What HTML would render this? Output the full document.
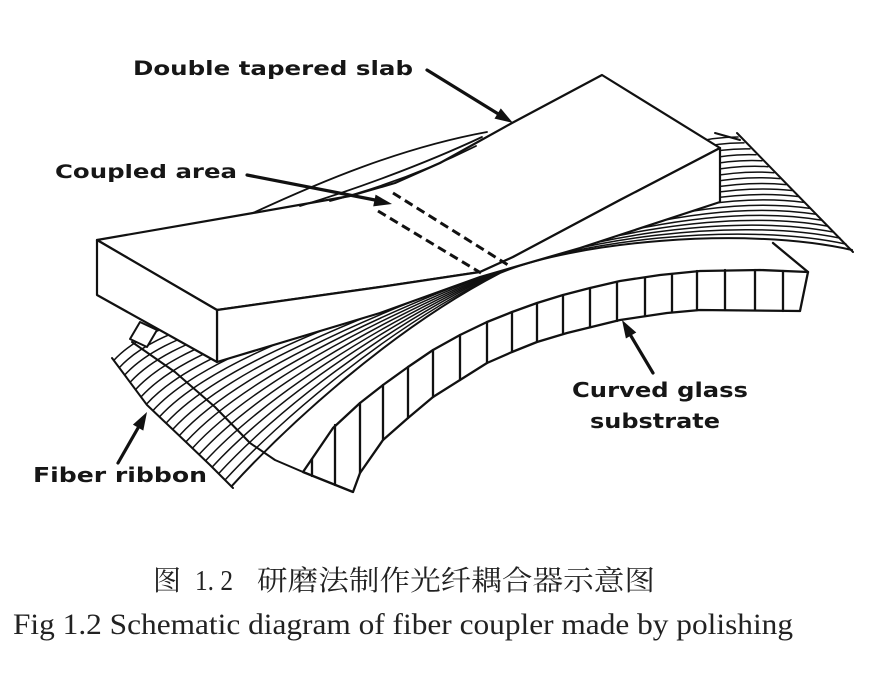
<!DOCTYPE html>
<html>
<head>
<meta charset="utf-8">
<style>
html,body{margin:0;padding:0;background:#fff;}
svg{display:block;}
.lbl{font-family:"DejaVu Sans","Liberation Sans",sans-serif;font-weight:bold;fill:#161616;}
</style>
</head>
<body>
<svg width="872" height="688" viewBox="0 0 872 688" xmlns="http://www.w3.org/2000/svg">
<rect width="872" height="688" fill="#fff"/>

<!-- Substrate front face -->
<g stroke="#111" stroke-width="2.3" stroke-linejoin="round" stroke-linecap="round">
<path fill="#fff" d="M303,472 L333,428 L360,403 L383,385 L408,367 L433,350 L460,335 L487,322 L512,312 L537,303 L563,295 L590,288 L620,281 L660,275 L700,271 L760,270 L808,272 L800,311 L700,310 L667,313 L620,320 L567,333 L537,342 L512,352 L487,363 L460,380 L433,397 L408,418 L383,440 L360,473 L353,492 Z"/>
<path fill="none" d="M312,459 L312,476 M335,425 L335,485 M360,403 L360,473 M383,385 L383,440 M408,367 L408,418 M433,350 L433,397 M460,335 L460,380 M487,322 L487,363 M512,312 L512,352 M537,303 L537,342 M563,295 L563,333 M590,288 L590,327 M617,282 L617,321 M645,278 L645,316 M672,274 L672,312 M697,271 L697,310 M725,270 L725,310 M755,270 L755,310 M783,271 L783,311"/>
<path fill="none" d="M773,243 L808,272"/>
</g>

<!-- Fibers -->
<g fill="none" stroke="#111" stroke-width="1.5" stroke-linecap="round">
<path d="M113.8,360.4 C168.8,300.4 320,300 500,263 C570,233 628,137 738,137"/>
<path d="M119.2,367.7 C174.2,307.7 323.7,301.6 500,263.5 C570,233.5 634,141.6 744,142.9"/>
<path d="M124.7,375 C179.7,315 327.4,303.2 500,264.1 C570,234.1 640,146.3 750,148.9"/>
<path d="M130.1,382.3 C185.1,322.3 331.1,304.7 500,264.6 C570,234.6 646,150.9 756,154.8"/>
<path d="M135.5,389.6 C190.5,329.6 334.7,306.3 500,265.1 C570,235.1 652,155.5 762,160.8"/>
<path d="M141,396.9 C196,336.9 338.4,307.9 500,265.6 C570,235.6 658,160.1 768,166.7"/>
<path d="M146.4,404.2 C201.4,344.2 342.1,309.5 500,266.2 C570,236.2 664,164.8 774,172.7"/>
<path d="M152.9,410.6 C207.9,350.6 345.8,311.1 500,266.7 C570,236.7 670,169.4 780,178.6"/>
<path d="M159.5,416.8 C214.5,356.8 349.5,312.6 500,267.2 C570,237.2 676,174.1 786,184.6"/>
<path d="M166.1,423.1 C221.1,363.1 353.2,314.2 500,267.7 C570,237.7 682,178.7 792,190.5"/>
<path d="M172.7,429.4 C227.7,369.4 356.8,315.8 500,268.3 C570,238.3 688,183.3 798,196.5"/>
<path d="M179.3,435.6 C234.3,375.6 360.5,317.4 500,268.8 C570,238.8 694,187.9 804,202.4"/>
<path d="M185.9,441.9 C240.9,381.9 364.2,318.9 500,269.3 C570,239.3 700,192.6 810,208.4"/>
<path d="M192.4,448.2 C247.4,388.2 367.9,320.5 500,269.8 C570,239.8 706,197.2 816,214.3"/>
<path d="M199,454.5 C254,394.5 371.6,322.1 500,270.4 C570,240.4 712,201.9 822,220.3"/>
<path d="M205.6,460.8 C260.6,400.8 375.3,323.7 500,270.9 C570,240.9 718,206.5 828,226.2"/>
<path d="M212.1,467.1 C267.1,407.1 378.9,325.3 500,271.4 C570,241.4 724,211.1 834,232.2"/>
<path d="M218.6,473.6 C273.6,413.6 382.6,326.8 500,271.9 C570,241.9 730,215.7 840,238.1"/>
<path d="M225,480 C280,420 386.3,328.4 500,272.5 C570,242.5 736,220.4 846,244.1"/>
<path d="M231.4,486.4 C286.4,426.4 390,330 500,273 C570,243 742,225 852,250" stroke-width="2"/>
</g>

<!-- Ribbon outlines -->
<g fill="none" stroke="#111" stroke-width="2" stroke-linejoin="round" stroke-linecap="round">
<path d="M132,342 L175,372 L215,407 L250,443 L275,460 L303,472 L353,492"/>
<path d="M112,358 L147,405 L187,443 L210,465 L233,488"/>
<path d="M737,133 L853,252"/>
<path d="M715,133 L740,140"/>
<path fill="#fff" d="M140,322 L130,339 L147,347 L157,330 Z"/>
</g>

<!-- Slab -->
<g stroke="#111" stroke-width="2.2" stroke-linejoin="round" fill="#fff">
<path d="M97,240 L253,213 L350,196 L395,183 L440,163 L512,123 L602,75 L720,148 L620,200 L513,257 L480,272 L380,287 L217,310 Z"/>
<path d="M217,310 L380,287 L480,272 L513,257 L620,200 L720,148 L720,202 L580,248 L480,277 L380,313 L217,362 Z"/>
<path d="M97,240 L217,310 L217,362 L97,295 Z"/>
</g>

<!-- Lens behind slab -->
<g fill="none" stroke="#111" stroke-width="1.8" stroke-linecap="round">
<path d="M253,213 C320,182 400,148 487,132"/>
<path d="M300,206 C350,191 420,166 482,137"/>
<path d="M330,201 C380,188 430,169 476,146"/>
</g>

<!-- Coupled area dashed lines -->
<g fill="none" stroke="#111" stroke-width="3" stroke-dasharray="9 5">
<path d="M393,193 L508,265"/>
<path d="M378,211 L481,273"/>
</g>

<!-- Arrows -->
<g stroke="#111" stroke-width="3.2" stroke-linecap="round" fill="none">
<path d="M427,70 L500,115"/>
<path d="M247,175 L375,200"/>
<path d="M653,373 L631,336"/>
<path d="M118,463 L138,428"/>
</g>
<g fill="#111">
<polygon points="513,123 494.5,118.6 500.8,108.4"/>
<polygon points="392,204 373.2,206.4 375.6,194.6"/>
<polygon points="622,320 636.3,332.5 625.9,338.5"/>
<polygon points="147,412 143.3,430.6 132.9,424.6"/>
</g>

<!-- Labels -->
<text class="lbl" x="133" y="75" font-size="19.5" textLength="280" lengthAdjust="spacingAndGlyphs">Double tapered slab</text>
<text class="lbl" x="55" y="178" font-size="19" textLength="182" lengthAdjust="spacingAndGlyphs">Coupled area</text>
<text class="lbl" x="572" y="397" font-size="20" textLength="176" lengthAdjust="spacingAndGlyphs">Curved glass</text>
<text class="lbl" x="590" y="428" font-size="20" textLength="130" lengthAdjust="spacingAndGlyphs">substrate</text>
<text class="lbl" x="33" y="482" font-size="20" textLength="174" lengthAdjust="spacingAndGlyphs">Fiber ribbon</text>

<!-- Captions -->
<text x="153" y="590" font-size="28" fill="#222" style="font-family:'Liberation Serif','Noto Serif CJK SC',serif;">图</text>
<text x="195" y="590" font-size="28" fill="#222" style="font-family:'Liberation Serif','Noto Serif CJK SC',serif;" textLength="38" lengthAdjust="spacingAndGlyphs">1. 2</text>
<text x="257" y="590" font-size="28" fill="#222" style="font-family:'Liberation Serif','Noto Serif CJK SC',serif;" textLength="398" lengthAdjust="spacingAndGlyphs">研磨法制作光纤耦合器示意图</text>
<text x="13" y="634" font-size="30" fill="#222" style="font-family:'Liberation Serif',serif;" textLength="780" lengthAdjust="spacingAndGlyphs">Fig 1.2 Schematic diagram of fiber coupler made by polishing</text>
</svg>
</body>
</html>
